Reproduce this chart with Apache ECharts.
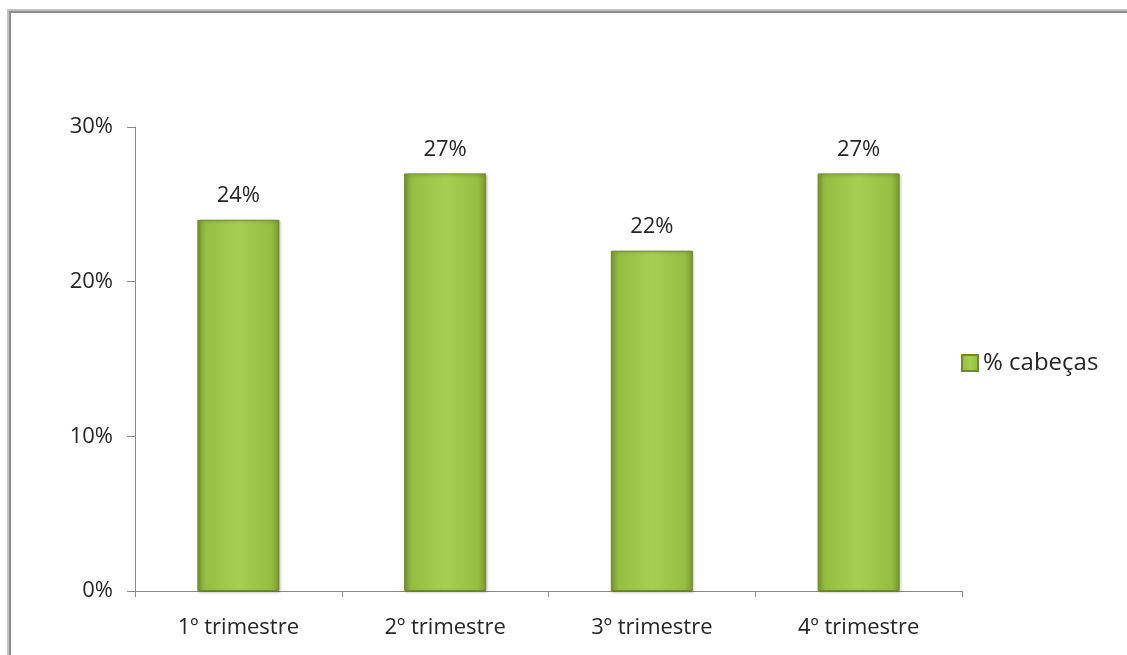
<!DOCTYPE html>
<html>
<head>
<meta charset="utf-8">
<script src="https://cdn.jsdelivr.net/npm/echarts@6/dist/echarts.min.js"></script>
<style>
    html, body { margin: 0; padding: 0; background: #fff; }
    #frame { position: absolute; left: 7px; top: 9px; width: 1200px; height: 700px; border-top: 2px solid #c2c2c2; border-left: 2px solid #c2c2c2; }
    #frameInner { width: 100%; height: 100%; border-top: 2px solid #8e8e8e; border-left: 2px solid #8e8e8e; }
    #chart { position: absolute; left: 0; top: 0; width: 1127px; height: 655px; }
</style>
</head>
<body>
<div id="frame"><div id="frameInner"></div></div>
<div id="chart"></div>
<script>
// categories and values (percent)
const categories = ['1º trimestre', '2º trimestre', '3º trimestre', '4º trimestre'];
const cabecas = [24, 27, 22, 27];
const seriesName = '% cabeças';

const FONT = '"Open Sans", Lato, sans-serif';

const barColor = new echarts.graphic.LinearGradient(0, 0, 1, 0, [
    { offset: 0, color: '#7a9a30' },
    { offset: 0.1, color: '#95be42' },
    { offset: 0.5, color: '#a7d052' },
    { offset: 0.9, color: '#95be42' },
    { offset: 1, color: '#7a9a30' }
]);

const myChart = echarts.init(document.getElementById('chart'));
const option = {
    animation: false,
    textStyle: { fontFamily: FONT },
    grid: { left: 135, right: 165, top: 127, bottom: 64, containLabel: false },
    legend: {
        left: 956,
        top: 346,
        orient: 'vertical',
        icon: 'rect',
        itemWidth: 16,
        itemHeight: 16,
        itemGap: 6,
        textStyle: { fontSize: 24, color: '#262626', fontFamily: FONT },
        data: [seriesName]
    },
    xAxis: {
        type: 'category',
        data: categories,
        axisLine: { lineStyle: { color: '#8a8a8a', width: 1 } },
        axisTick: { show: true, length: 6, lineStyle: { color: '#8a8a8a' } },
        axisLabel: { fontSize: 22, color: '#262626', margin: 26, fontFamily: FONT },
        splitLine: { show: false }
    },
    yAxis: {
        type: 'value',
        min: 0,
        max: 30,
        interval: 10,
        axisLine: { show: true, lineStyle: { color: '#8a8a8a', width: 1 } },
        axisTick: { show: true, length: 8, lineStyle: { color: '#8a8a8a' } },
        axisLabel: { formatter: '{value}%', fontSize: 22, color: '#262626', margin: 22, fontFamily: FONT },
        splitLine: { show: false }
    },
    series: [{
        name: seriesName,
        type: 'bar',
        data: cabecas,
        barWidth: 82,
        itemStyle: {
            color: barColor,
            borderColor: '#6f8c2a',
            borderWidth: 1,
            shadowColor: 'rgba(0,0,0,0.25)',
            shadowBlur: 3,
            shadowOffsetX: 1,
            shadowOffsetY: 1
        },
        label: {
            show: true,
            position: 'top',
            distance: 13,
            formatter: '{c}%',
            fontSize: 22,
            color: '#262626',
            fontFamily: FONT
        }
    }]
};
myChart.setOption(option);
window.addEventListener('resize', () => myChart.resize());
</script>
</body>
</html>
